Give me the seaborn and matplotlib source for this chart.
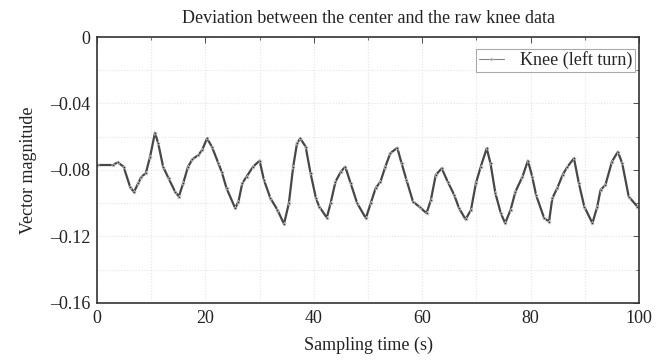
import matplotlib
matplotlib.use("Agg")
import matplotlib.pyplot as plt
import seaborn as sns
import pandas as pd
import numpy as np
from matplotlib.ticker import MultipleLocator

# Sampling time (s)
time_s = [0.0, 3.0, 3.8, 4.9, 6.1, 6.8, 7.6, 8.2, 9.0, 9.8, 10.7, 11.3, 12.2, 13.2, 14.4,
          15.1, 15.9, 16.8, 17.6, 18.7, 19.4, 20.3, 21.2, 22.4, 23.0, 23.9, 25.5, 26.1,
          26.8, 27.6, 28.8, 30.0, 30.8, 32.0, 33.3, 34.5, 35.4, 36.2, 36.9, 37.5, 38.5,
          39.4, 40.4, 41.0, 42.4, 43.1, 44.0, 45.0, 45.8, 46.8, 48.0, 49.6, 50.5, 51.4,
          52.3, 53.2, 54.1, 55.4, 56.2, 57.1, 58.3, 59.6, 60.8, 61.6, 62.5, 63.6, 64.7,
          65.9, 66.8, 68.0, 69.0, 69.9, 70.8, 71.9, 72.6, 73.5, 74.5, 75.3, 76.3, 77.2,
          78.5, 79.5, 80.3, 81.0, 82.5, 83.4, 84.0, 84.9, 85.9, 86.8, 88.0, 88.9, 89.9,
          91.4, 92.3, 92.9, 93.8, 95.0, 96.1, 96.9, 98.1, 99.7]
# Vector magnitude
knee_left = [-0.077, -0.077, -0.0754, -0.078, -0.090, -0.0934, -0.088, -0.084, -0.082,
             -0.072, -0.0575, -0.064, -0.078, -0.085, -0.093, -0.096, -0.088, -0.078,
             -0.0736, -0.071, -0.068, -0.061, -0.066, -0.076, -0.081, -0.091, -0.103,
             -0.099, -0.088, -0.084, -0.078, -0.0744, -0.086, -0.097, -0.104, -0.1125,
             -0.100, -0.078, -0.064, -0.061, -0.066, -0.082, -0.097, -0.102, -0.1087,
             -0.100, -0.087, -0.081, -0.078, -0.088, -0.100, -0.109, -0.100, -0.091,
             -0.087, -0.078, -0.070, -0.0666, -0.076, -0.086, -0.099, -0.1025, -0.106,
             -0.098, -0.083, -0.079, -0.087, -0.095, -0.103, -0.1097, -0.104, -0.088,
             -0.078, -0.067, -0.076, -0.094, -0.106, -0.112, -0.104, -0.093, -0.084,
             -0.0744, -0.084, -0.095, -0.109, -0.111, -0.097, -0.091, -0.083, -0.078,
             -0.073, -0.088, -0.102, -0.112, -0.102, -0.092, -0.089, -0.075, -0.069,
             -0.076, -0.096, -0.102]
series_label = "Knee (left turn)"
x_ticks = [0, 20, 40, 60, 80, 100]
y_ticks = [0, -0.04, -0.08, -0.12, -0.16]
y_tick_labels = ["0", "\u20130.04", "\u20130.08", "\u20130.12", "\u20130.16"]

df = pd.DataFrame({"t": time_s, "v": knee_left, "series": series_label})

sns.set_theme(style="white")
plt.rcParams["font.family"] = ["Liberation Serif", "DejaVu Serif"]

fig = plt.figure(figsize=(6.62, 3.61), dpi=100)
ax = fig.add_axes([0.1465, 0.1607, 0.8188, 0.7368])

sns.lineplot(data=df, x="t", y="v", hue="series", palette=["#333333"], ax=ax,
             linewidth=1.6, marker="*", markersize=3.5, markeredgewidth=0.3,
             alpha=0.9, legend=True)

ax.set_xlim(0, 100)
ax.set_ylim(-0.16, 0)
ax.set_xticks(x_ticks)
ax.set_xticklabels([str(v) for v in x_ticks])
ax.set_yticks(y_ticks)
ax.set_yticklabels(y_tick_labels)
ax.xaxis.set_minor_locator(MultipleLocator(10))
ax.yaxis.set_minor_locator(MultipleLocator(0.02))

ax.grid(True, which="both", color="#e4e4e4", linestyle=":", linewidth=0.8)
ax.tick_params(which="both", direction="in", top=True, right=True, colors="#333333",
               labelcolor="#222222", labelsize=13)
ax.tick_params(which="major", length=4, width=0.6, pad=5)
ax.tick_params(which="minor", length=2.5, width=0.5)
for s in ax.spines.values():
    s.set_color("#333333")
    s.set_linewidth(1.2)

ax.set_title("Deviation between the center and the raw knee data", fontsize=13, pad=10,
             color="#222222")
ax.set_xlabel("Sampling time (s)", fontsize=13, color="#222222", labelpad=7)
ax.set_ylabel("Vector magnitude", fontsize=13, color="#222222", labelpad=9)

leg = ax.legend(loc="upper right", fontsize=13, frameon=True, fancybox=False,
                edgecolor="#aaaaaa", borderaxespad=0.2, handlelength=1.4,
                handletextpad=0.9, borderpad=0.15, framealpha=1,
                bbox_to_anchor=(1.0, 0.97))
leg.get_frame().set_linewidth(0.8)
for h in leg.legend_handles:
    h.set_linewidth(0.8)
    h.set_color("#777777")

fig.savefig("out.png", dpi=100)
